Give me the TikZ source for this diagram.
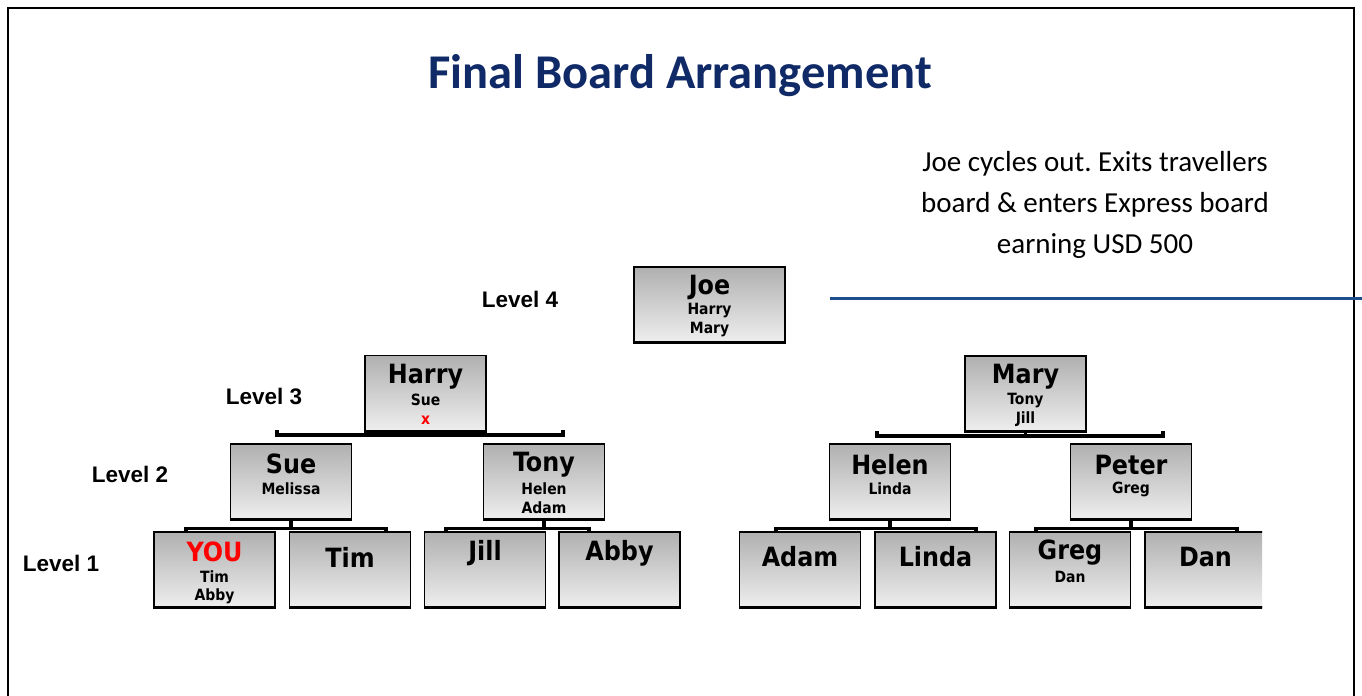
\documentclass[tikz,border=0pt]{standalone}
\usepackage{fontspec}
\setmainfont{Carlito}
\newfontfamily\boxfont{DejaVu Sans Condensed}
\newfontfamily\lvlfont{Liberation Sans}
\definecolor{titleblue}{RGB}{16,42,104}
\definecolor{rulerblue}{RGB}{31,78,140}
\definecolor{boxtop}{RGB}{176,176,176}
\definecolor{boxbot}{RGB}{238,238,238}
\frenchspacing
\tikzset{
  member/.style={draw=black, line width=1.3bp, top color=boxtop, bottom color=boxbot,
    minimum width=121bp, minimum height=75bp, inner sep=0pt},
  wide/.style={minimum width=151bp},
  shadowline/.style={line width=3bp, line cap=butt},
  bracket/.style={line width=3.5bp, line cap=butt, line join=miter},
  mainname/.style={font=\boxfont\bfseries\fontsize{26.5bp}{30bp}\selectfont, inner sep=0pt},
  subname/.style={font=\boxfont\bfseries\fontsize{15.5bp}{17bp}\selectfont, inner sep=0pt},
  lvl/.style={font=\lvlfont\bfseries\fontsize{22.5bp}{25bp}\selectfont, inner sep=0pt},
}
\begin{document}
\begin{tikzpicture}[x=1bp,y=-1bp]
\useasboundingbox (0,0) rectangle (1362,695);
\clip (0,0) rectangle (1362,695);
\fill[white] (0,0) rectangle (1362,695);
% page frame
\draw[line width=2bp] (8,720) -- (8,8) -- (1353.5,8) -- (1353.5,720);

% heading and note
\node[font=\bfseries\fontsize{48.5bp}{52bp}\selectfont, text=titleblue, inner sep=0pt] (title) at (680,76) {Final Board Arrangement};
\node[font=\fontsize{29bp}{41bp}\selectfont, align=center, inner sep=0pt] (note) at (1095,205)
  {Joe cycles out. Exits travellers\\board \& enters Express board\\earning USD 500};
\coordinate (ruleL) at (830,298);
\coordinate (ruleR) at (1362,298);
\draw[rulerblue, line width=3bp] (ruleL) -- (ruleR);

% level labels
\node[lvl] (l4) at (520,299) {Level 4};
\node[lvl] (l3) at (264,396) {Level 3};
\node[lvl] (l2) at (130,474) {Level 2};
\node[lvl] (l1) at (61,563) {Level 1};

% boxes
\node[member, wide] (joe) at (709.5,304.5) {};
\node[member] (harry) at (425.5,393) {};
\node[member] (mary) at (1025.5,393.5) {};
\node[member] (sue) at (291,481.5) {};
\node[member] (tony) at (544,481.5) {};
\node[member] (helen) at (890,481.5) {};
\node[member] (peter) at (1131,481.5) {};
\node[member] (you) at (214.5,569.5) {};
\node[member] (tim) at (350,569.5) {};
\node[member] (jill) at (485,569.5) {};
\node[member] (abby) at (619.5,569.5) {};
\node[member] (adam) at (800,569.5) {};
\node[member] (linda) at (935.5,569.5) {};
\node[member] (greg) at (1070,569.5) {};
\begin{scope}
  \clip (1100,520) rectangle (1262,620);
  \node[member] (dan) at (1205.5,569.5) {};
  \draw[shadowline] (dan.south west) -- (dan.south east);
\end{scope}
\foreach \b in {joe,harry,mary,sue,tony,helen,peter,you,tim,jill,abby,adam,linda,greg}
  \draw[shadowline] (\b.south west) -- (\b.south east);

% names
\node[mainname] (tjoe) at (709.5,287) {Joe};
\node[subname] (tjoe1) at (709.5,311) {Harry};
\node[subname] (tjoe2) at (709.5,330) {Mary};
\node[mainname] (tharry) at (425.5,377) {Harry};
\node[subname] (tharry1) at (425.5,400) {Sue};
\node[subname, text=red] (tharry2) at (425.5,420) {x};
\node[mainname] (tmary) at (1025.5,377) {Mary};
\node[subname] (tmary1) at (1025.5,401) {Tony};
\node[subname] (tmary2) at (1025.5,419) {Jill};
\node[mainname] (tsue) at (291,464) {Sue};
\node[subname] (tsue1) at (291,489) {Melissa};
\node[mainname] (ttony) at (544,465) {Tony};
\node[subname] (ttony1) at (544,489) {Helen};
\node[subname] (ttony2) at (544,508) {Adam};
\node[mainname] (thelen) at (890,465) {Helen};
\node[subname] (thelen1) at (890,489) {Linda};
\node[mainname] (tpeter) at (1131,465) {Peter};
\node[subname] (tpeter1) at (1131,489) {Greg};
\node[mainname, text=red] (tyou) at (214.5,552) {YOU};
\node[subname] (tyou1) at (214.5,577) {Tim};
\node[subname] (tyou2) at (214.5,596) {Abby};
\node[mainname] (ttim) at (350,557) {Tim};
\node[mainname] (tjill) at (485,553) {Jill};
\node[mainname] (tabby) at (619.5,553) {Abby};
\node[mainname] (tadam) at (800,557) {Adam};
\node[mainname] (tlinda) at (935.5,557) {Linda};
\node[mainname] (tgreg) at (1070,553) {Greg};
\node[subname] (tgreg1) at (1070,577) {Dan};
\node[mainname] (tdan) at (1205.5,557) {Dan};

% brackets joining each box to the two below it
\coordinate (hL) at (277,435);   \coordinate (hR) at (563,435);
\coordinate (mL) at (877,436);   \coordinate (mR) at (1163,436);
\coordinate (sL) at (186,528.5); \coordinate (sR) at (386,528.5);
\coordinate (oL) at (446,528.5); \coordinate (oR) at (589,528.5);
\coordinate (eL) at (776,528.5); \coordinate (eR) at (976,528.5);
\coordinate (pL) at (1036,528.5);\coordinate (pR) at (1237,528.5);

\draw[bracket] (harry.south) -- (harry.south |- hL);
\draw[bracket] ([yshift=5bp]hL) -- (hL) -- (hR) -- ([yshift=5bp]hR);
\draw[bracket] (mary.south) -- (mary.south |- mL);
\draw[bracket] ([yshift=5bp]mL) -- (mL) -- (mR) -- ([yshift=5bp]mR);
\draw[bracket] (sue.south) -- (sue.south |- sL);
\draw[bracket] (you.north -| sL) -- (sL) -- (sR) -- (tim.north -| sR);
\draw[bracket] (tony.south) -- (tony.south |- oL);
\draw[bracket] (jill.north -| oL) -- (oL) -- (oR) -- (abby.north -| oR);
\draw[bracket] (helen.south) -- (helen.south |- eL);
\draw[bracket] (adam.north -| eL) -- (eL) -- (eR) -- (linda.north -| eR);
\draw[bracket] (peter.south) -- (peter.south |- pL);
\draw[bracket] (greg.north -| pL) -- (pL) -- (pR) -- (dan.north -| pR);
\end{tikzpicture}
\end{document}
